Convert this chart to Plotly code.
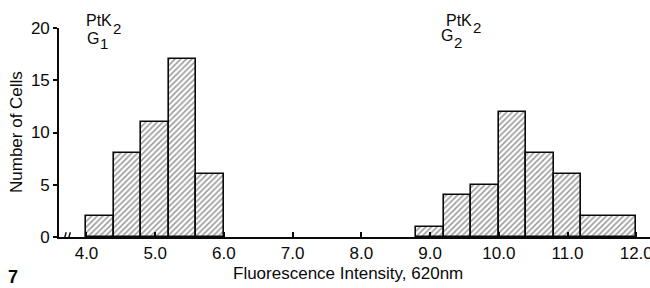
import plotly.graph_objects as go

# --- data ---
g1_left_edges = [4.0, 4.4, 4.8, 5.2, 5.6]
g1_widths = [0.4, 0.4, 0.4, 0.4, 0.4]
g1_counts = [2, 8, 11, 17, 6]

g2_left_edges = [8.8, 9.2, 9.6, 10.0, 10.4, 10.8, 11.2]
g2_widths = [0.4, 0.4, 0.4, 0.4, 0.4, 0.4, 0.8]
g2_counts = [1, 4, 5, 12, 8, 6, 2]

x_ticks = [4, 5, 6, 7, 8, 9, 10, 11, 12]
x_tick_labels = ["4.0", "5.0", "6.0", "7.0", "8.0", "9.0", "10.0", "11.0", "12.0"]
y_ticks = [0, 5, 10, 15, 20]

x_title = "Fluorescence Intensity, 620nm"
y_title = "Number of Cells"

FONT = "Liberation Sans, Arial, Helvetica, sans-serif"
INK = "#0a0a0a"
W, H = 650, 288
ML, MR, MT, MB = 59, 0, 28, 51
PW, PH = W - ML - MR, H - MT - MB


def px(x, y):
    """pixel position -> paper coordinates (for text placement only)"""
    return (x - ML) / PW, (H - MB - y) / PH


fig = go.Figure()
for edges, widths, counts in [(g1_left_edges, g1_widths, g1_counts),
                              (g2_left_edges, g2_widths, g2_counts)]:
    fig.add_trace(go.Bar(
        x=edges, y=counts, width=widths, offset=0,
        marker=dict(color="white",
                    line=dict(color=INK, width=1.6),
                    pattern=dict(shape="/", fgcolor="#333333", bgcolor="white",
                                 size=4, solidity=0.38)),
        showlegend=False, hoverinfo="skip"))

# axis break mark on the x baseline
fig.add_shape(type="rect", xref="x", yref="y", x0=3.685, x1=3.745, y0=-0.25, y1=0.25,
              fillcolor="white", line=dict(width=0), layer="above")
for xb in [3.685, 3.745]:
    fig.add_shape(type="line", xref="x", yref="y", x0=xb - 0.02, x1=xb + 0.02,
                  y0=-0.45, y1=0.45, line=dict(color=INK, width=1.4), layer="above")

labels = [
    # text, pixel x center, pixel y center, size
    ("PtK", 99, 21, 16), ("2", 117, 28, 15), ("G", 93, 38, 16), ("1", 104, 44, 15),
    ("PtK", 459, 20, 16), ("2", 477, 27, 15), ("G", 447, 36, 16), ("2", 458, 42, 15),
]
annotations = []
for t, x, y, s in labels:
    ax, ay = px(x, y)
    annotations.append(dict(text=t, x=ax, y=ay, xref="paper", yref="paper",
                            xanchor="center", yanchor="middle", showarrow=False,
                            font=dict(size=s)))
ax, ay = px(13, 277)
annotations.append(dict(text="<b>7</b>", x=ax, y=ay, xref="paper", yref="paper",
                        xanchor="center", yanchor="middle", showarrow=False,
                        font=dict(size=18)))
ax, ay = px(348, 273)
annotations.append(dict(text=x_title, x=ax, y=ay, xref="paper", yref="paper",
                        xanchor="center", yanchor="middle", showarrow=False,
                        font=dict(size=17)))
ax, ay = px(16, 132)
annotations.append(dict(text=y_title, x=ax, y=ay, xref="paper", yref="paper",
                        xanchor="center", yanchor="middle", showarrow=False,
                        textangle=-90, font=dict(size=17)))

fig.update_layout(
    width=W, height=H,
    margin=dict(l=ML, r=MR, t=MT, b=MB),
    paper_bgcolor="white", plot_bgcolor="white",
    font=dict(family=FONT, color=INK, size=17),
    bargap=0, barmode="overlay",
    xaxis=dict(range=[3.6, 12.2], tickvals=x_ticks, ticktext=x_tick_labels,
               automargin=False, ticklabeloverflow="allow",
               showline=True, linecolor=INK, linewidth=1.6,
               ticks="inside", ticklen=5, tickwidth=1.6, tickcolor=INK,
               showgrid=False, zeroline=False,
               tickfont=dict(size=17)),
    yaxis=dict(range=[0, 20], tickvals=y_ticks, automargin=False,
               showline=True, linecolor=INK, linewidth=1.6,
               ticks="outside", ticklen=4, tickwidth=1.6, tickcolor=INK,
               showgrid=False, zeroline=False,
               tickfont=dict(size=17)),
    annotations=annotations,
)

fig.write_html("out.html", config={"displayModeBar": False},
               post_script="document.body.style.margin='0px';document.body.style.padding='0px';")
